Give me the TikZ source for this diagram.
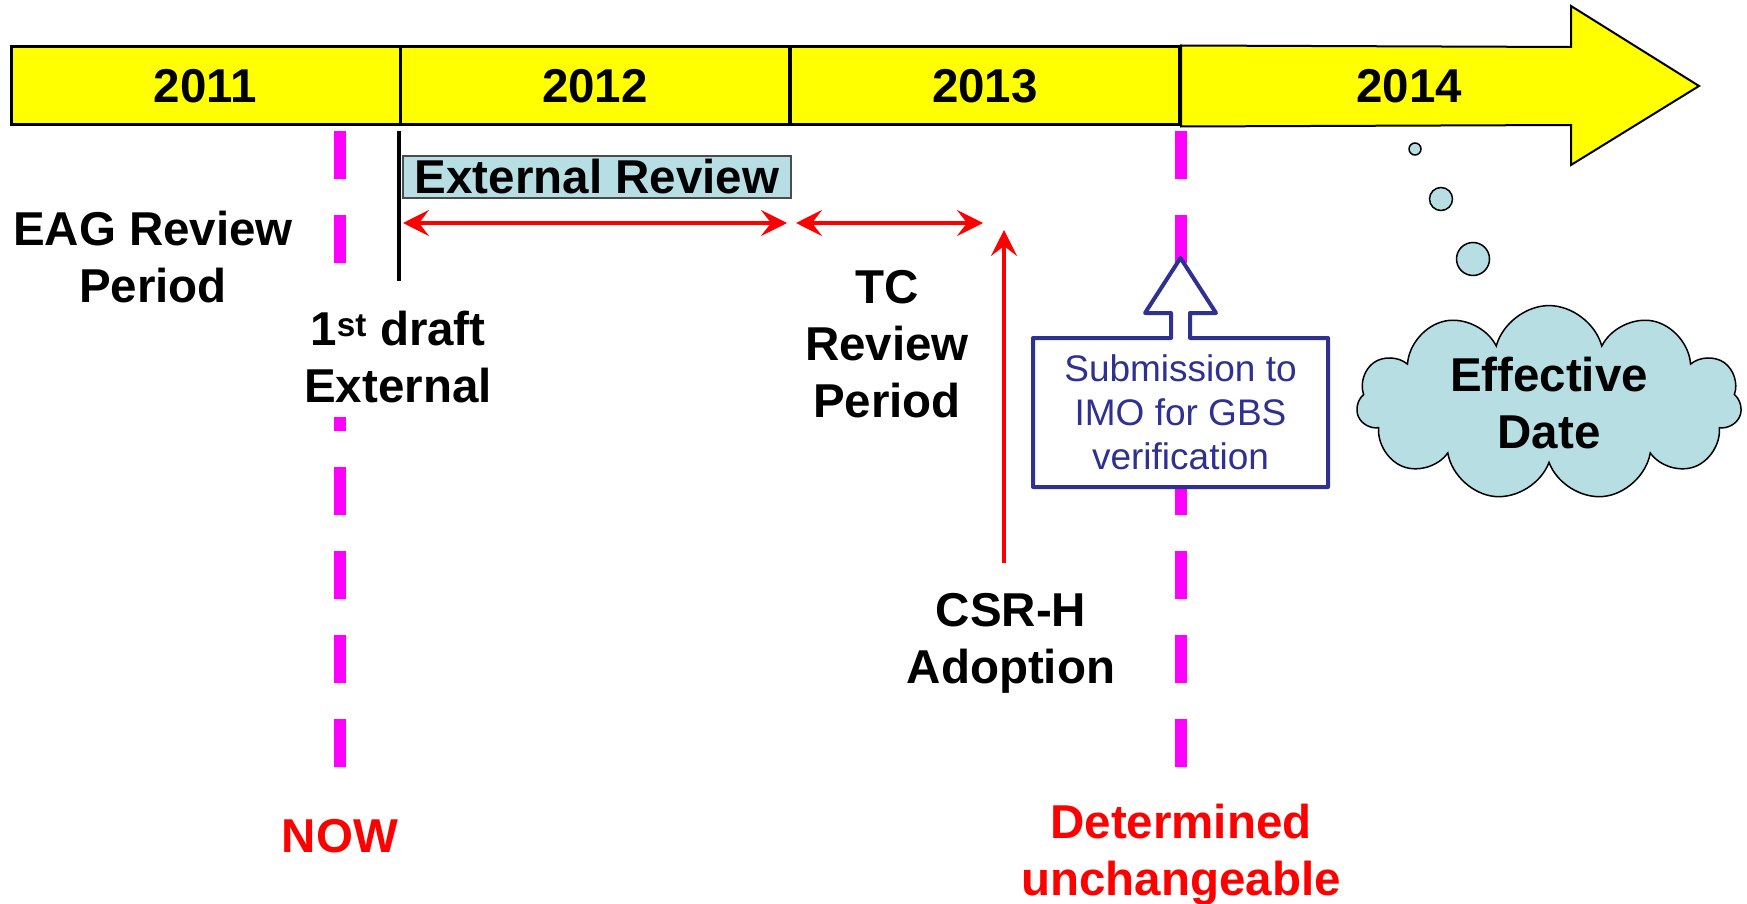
\documentclass[tikz,border=0pt]{standalone}
\usepackage{fontspec}
\setmainfont{Liberation Sans}
\usetikzlibrary{arrows.meta, positioning, shapes.symbols}

\definecolor{barYellow}{RGB}{255,255,0}
\definecolor{nowMagenta}{RGB}{255,0,255}
\definecolor{reviewBlue}{RGB}{183,222,226}
\definecolor{imoNavy}{RGB}{46,49,146}

\begin{document}
\begin{tikzpicture}[
    x=1pt, y=-1pt,
    font=\fontsize{47.5}{57}\selectfont\bfseries,
    >={Stealth[length=26pt, width=26pt, inset=10pt]},
    yearbox/.style={
        draw,
        fill=barYellow,
        line width=3pt,
        minimum width=389pt,
        minimum height=78pt,
        inner sep=0pt
    },
    txt/.style={
        align=center,
        inner sep=0pt
    },
    redtxt/.style={
        txt,
        text=red
    },
    nowline/.style={
        nowMagenta,
        line width=12pt,
        dash pattern=on 48pt off 36pt
    },
    span/.style={
        <->,
        red,
        line width=3.5pt
    },
    reviewbox/.style={
        draw=black!70,
        fill=reviewBlue,
        line width=2pt,
        minimum width=388pt,
        minimum height=42pt,
        inner sep=0pt
    },
    imoframe/.style={
        draw=imoNavy,
        fill=white,
        line width=4pt,
        line join=round
    },
    imotxt/.style={
        align=center,
        text=imoNavy,
        inner sep=0pt,
        font=\fontsize{37}{44}\selectfont\mdseries
    },
    thought/.style={
        cloud,
        draw,
        fill=reviewBlue,
        line width=1.5pt,
        cloud puffs=11,
        aspect=2,
        minimum width=385pt,
        minimum height=194pt,
        align=center,
        inner sep=0pt
    },
    bubble/.style={
        circle,
        draw,
        fill=reviewBlue,
        line width=1.5pt,
        inner sep=0pt
    }
]
\useasboundingbox (0,0) rectangle (1747,904);

% Timeline bar
\node[yearbox] (y2011) at (205.5,86) {2011};
\node[yearbox] (y2012) at (595,86) {2012};
\node[yearbox] (y2013) at (985,86) {2013};
\draw[fill=barYellow, line width=2pt] (y2013.north east) -- (1571,47) -- (1571,6) -- (1699,86)
    -- (1571,165) -- (1571,125) -- (y2013.south east) -- cycle;
\node[txt] (y2014) at (1409,86) {2014};

% Milestone lines
\coordinate (nowTop) at (340,131);
\coordinate (nowEnd) at (340,767);
\coordinate (detTop) at (1181,131);
\coordinate (detEnd) at (1181,767);
\draw[nowline] (nowTop) -- (nowEnd);
\draw[nowline] (detTop) -- (detEnd);
\node[redtxt, below=52pt of nowEnd] (now) {NOW};
\node[redtxt, below=37pt of detEnd] (determined) {Determined\\unchangeable};

% First draft
\coordinate (draftTop) at (399,131);
\coordinate (draftBot) at (399,281);
\draw[line width=4pt] (draftTop) -- (draftBot);
\node[txt, fill=white, inner ysep=14pt] (draft) at (398,357) {1\textsuperscript{st} draft\\External};

% Review periods
\node[txt] (eag) at (153,257) {EAG Review\\Period};
\node[reviewbox] (extrev) at (597,177) {External Review};
\coordinate (extL) at (403,223);
\coordinate (extR) at (787,223);
\coordinate (tcL) at (796,223);
\coordinate (tcR) at (983,223);
\draw[span] (extL) -- (extR);
\draw[span] (tcL) -- (tcR);
\node[txt] (tc) at (887,344) {TC\\Review\\Period};

% Adoption
\coordinate (adoptFoot) at (1004,563);
\coordinate (adoptTip) at (1004,230);
\draw[->, red, line width=3.5pt] (adoptFoot) -- (adoptTip);
\node[txt] (csr) at (1011,643) {CSR-H\\Adoption};

% Submission callout
\coordinate (imo) at (1180.5,412.5);
\draw[imoframe, shift={(imo)}] (-147.5,-74.5) -- (-9.5,-74.5) -- (-9.5,-99.5) -- (-35.5,-99.5)
    -- (0,-154.5) -- (35.5,-99.5) -- (9.5,-99.5) -- (9.5,-74.5) -- (147.5,-74.5)
    -- (147.5,74.5) -- (-147.5,74.5) -- cycle;
\node[imotxt] (submit) at (imo) {Submission to\\IMO for GBS\\verification};

% Effective date
\node[bubble, minimum size=12pt] (puff1) at (1415,149) {};
\node[bubble, minimum size=23pt] (puff2) at (1441,199) {};
\node[bubble, minimum size=33pt] (puff3) at (1473,259) {};
\node[thought] (effective) at (1549,403) {Effective\\Date};

\end{tikzpicture}
\end{document}
